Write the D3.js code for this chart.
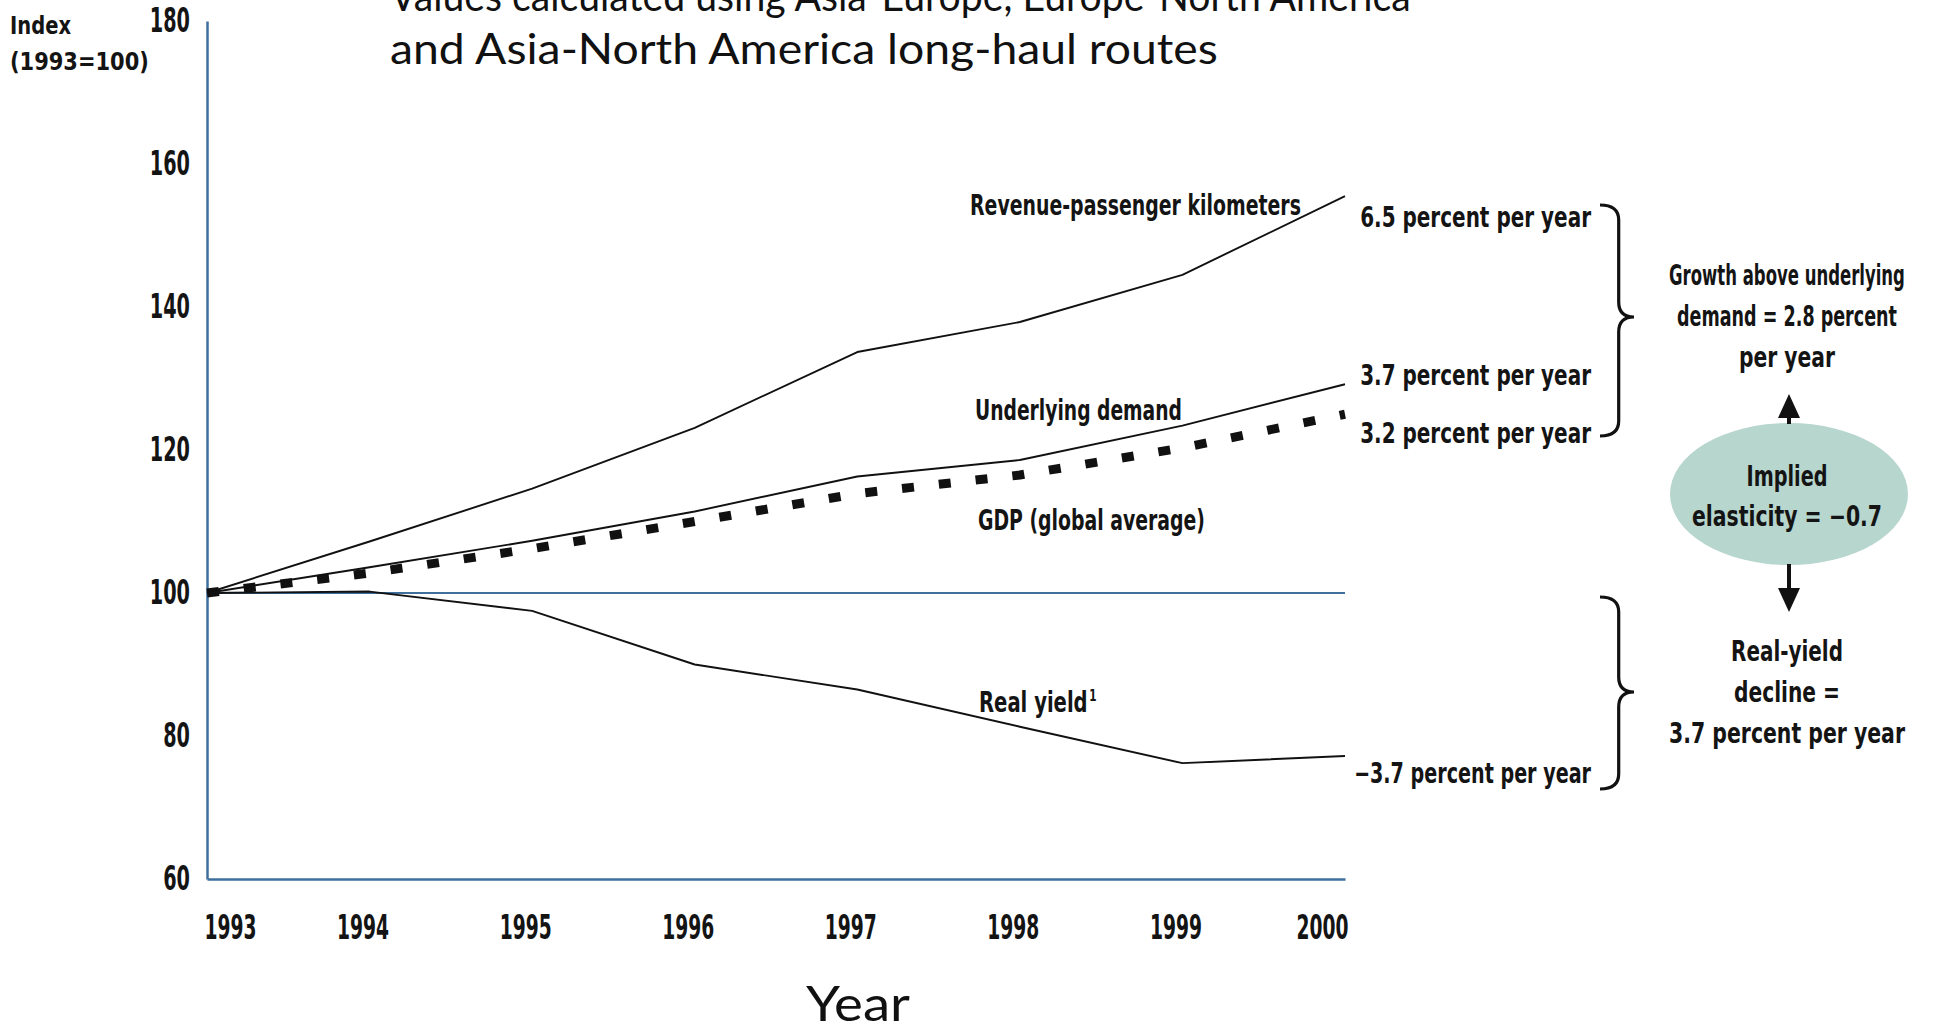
<!DOCTYPE html>
<html>
<head>
<meta charset="utf-8">
<script src="https://cdn.jsdelivr.net/npm/d3@7"></script>
<style>
  html, body { margin: 0; padding: 0; background: #fff; }
  svg { display: block; }
  .cond { font-family: "Liberation Sans Narrow", "DejaVu Sans Condensed", "DejaVu Sans", sans-serif; font-stretch: condensed; font-weight: bold; fill: #141414; }
  .gill { font-family: Lato, "Open Sans", sans-serif; fill: #111; }
</style>
</head>
<body>
<script>
// Index values, 1993 = 100
const years = [1993, 1994, 1995, 1996, 1997, 1998, 1999, 2000];
const rpk = [100, 107.2, 114.6, 123.1, 133.7, 137.9, 144.5, 155.5];
const underlying = [100, 103.6, 107.3, 111.4, 116.3, 118.6, 123.4, 129.2];
const gdp = [100, 102.8, 106.2, 110.0, 113.9, 116.5, 120.3, 125.0];
const realYield = [100, 100.2, 97.5, 90.0, 86.5, 81.3, 76.2, 77.2];
const yTicks = [60, 80, 100, 120, 140, 160, 180];
const rateLabels = ["6.5 percent per year", "3.7 percent per year", "3.2 percent per year", "\u22123.7 percent per year"];

const W = 1948, H = 1034;
const svg = d3.select("body").append("svg").attr("width", W).attr("height", H);

const x = d3.scaleLinear().domain([1993, 2000]).range([207, 1345]);
const y = d3.scaleLinear().domain([60, 180]).range([879, 21]);
const axisBlue = "#3f6f9d";

// Squeeze a text horizontally to a set width; the scale goes into the
// transform so the text's box on screen matches what is drawn.
function squeeze(node, target) {
  const t = d3.select(node);
  const w = node.getComputedTextLength();
  const x0 = +t.attr("x") || 0, y0 = +t.attr("y") || 0, dx = +t.attr("dx") || 0;
  t.attr("x", null).attr("y", null).attr("dx", null)
    .attr("transform", `translate(${x0 + dx},${y0}) scale(${(target / w).toFixed(4)},1)`);
}
function addText(cls, txt, tx, ty, size, width, anchor, dy) {
  const t = svg.append("text").attr("class", cls).attr("x", tx).attr("y", ty)
    .attr("font-size", size).attr("text-anchor", anchor || "start").text(txt);
  if (dy) t.attr("dy", dy);
  squeeze(t.node(), width);
  return t;
}

// Title (two lines, the first running off the top edge)
addText("gill", "Values calculated using Asia-Europe, Europe-North America", 390, 11, 42, 1021);
addText("gill", "and Asia-North America long-haul routes", 390, 64, 42, 828);

// Y axis
const yAxis = svg.append("g").attr("transform", `translate(${x(1993)},0)`)
  .call(d3.axisLeft(y).tickValues(yTicks).tickSize(0).tickPadding(17).tickFormat(d3.format("d")));
yAxis.select(".domain").attr("stroke", axisBlue).attr("stroke-width", 2.5);
yAxis.selectAll("text").attr("class", "cond").attr("font-size", 33)
  .each(function (d) { squeeze(this, String(d).length * 13.4); });

// X axis
const xAxis = svg.append("g").attr("transform", `translate(0,${y(60)})`)
  .call(d3.axisBottom(x).tickValues(years).tickSize(0).tickPadding(36).tickFormat(d3.format("d")));
xAxis.select(".domain").attr("stroke", axisBlue).attr("stroke-width", 2.5);
xAxis.selectAll("text").attr("class", "cond").attr("font-size", 34)
  .attr("dx", (d, i) => i === 0 ? 23 : (i === years.length - 1 ? -23 : -7))
  .each(function () { squeeze(this, 52); });

// Index label
addText("cond", "Index", 10, 25, 25, 61, "start", "0.35em");
addText("cond", "(1993=100)", 10, 61, 25, 139, "start", "0.35em");

// Reference line at 100
svg.append("line").attr("x1", x(1993)).attr("x2", x(2000)).attr("y1", y(100)).attr("y2", y(100))
  .attr("stroke", axisBlue).attr("stroke-width", 2);

// Series lines
const line = d3.line().x((d, i) => x(years[i])).y(d => y(d));
svg.append("path").datum(gdp).attr("d", line).attr("fill", "none")
  .attr("stroke", "#111").attr("stroke-width", 9).attr("stroke-dasharray", "12,25");
[rpk, underlying, realYield].forEach(s => {
  svg.append("path").datum(s).attr("d", line).attr("fill", "none")
    .attr("stroke", "#111").attr("stroke-width", 1.9).attr("stroke-linejoin", "round");
});

// Series labels
addText("cond", "Revenue-passenger kilometers", 970, 205, 28, 331, "start", "0.35em");
addText("cond", "Underlying demand", 975, 410, 28, 207, "start", "0.35em");
addText("cond", "GDP (global average)", 978, 520, 28, 227, "start", "0.35em");
const ry = svg.append("text").attr("class", "cond").attr("x", 979).attr("y", 702).attr("dy", "0.35em")
  .attr("font-size", 28);
ry.append("tspan").text("Real yield");
ry.append("tspan").attr("font-size", 15).attr("dy", "-0.75em").attr("dx", 2).text("1");
squeeze(ry.node(), 116);

// Growth-rate annotations at the right end of the lines
const rateY = [217, 375, 433, 773];
rateLabels.forEach((t, i) => {
  addText("cond", t, 1591, rateY[i], 28, i === 3 ? 237 : 231, "end", "0.35em");
});

// Curly braces
function brace(bx, yTop, yBot, yTip, w) {
  const xm = bx + w * 0.55, xt = bx + w, r = 15;
  const p = d3.path();
  p.moveTo(bx, yTop);
  p.quadraticCurveTo(xm, yTop, xm, yTop + r);
  p.lineTo(xm, yTip - r);
  p.quadraticCurveTo(xm, yTip, xt, yTip);
  p.quadraticCurveTo(xm, yTip, xm, yTip + r);
  p.lineTo(xm, yBot - r);
  p.quadraticCurveTo(xm, yBot, bx, yBot);
  return p.toString();
}
svg.append("path").attr("d", brace(1600, 205, 436, 317, 34)).attr("fill", "none")
  .attr("stroke", "#111").attr("stroke-width", 3.2);
svg.append("path").attr("d", brace(1600, 597, 789, 692, 34)).attr("fill", "none")
  .attr("stroke", "#111").attr("stroke-width", 3.2);

// Right-hand explanation
const cx = 1787;
function centred(txt, cy, len) {
  addText("cond", txt, cx, cy, 28, len, "middle", "0.35em");
}
centred("Growth above underlying", 275, 236);
centred("demand = 2.8 percent", 316, 220);
centred("per year", 357, 96);

svg.append("ellipse").attr("cx", 1789).attr("cy", 494).attr("rx", 119).attr("ry", 71)
  .attr("fill", "#b7d6ce");
centred("Implied", 476, 81);
centred("elasticity = \u22120.7", 516, 190);

// Arrows
svg.append("line").attr("x1", 1789).attr("x2", 1789).attr("y1", 424).attr("y2", 410)
  .attr("stroke", "#111").attr("stroke-width", 4);
svg.append("path").attr("d", "M1789,394 L1800,418 L1778,418 Z").attr("fill", "#111");
svg.append("line").attr("x1", 1789).attr("x2", 1789).attr("y1", 564).attr("y2", 590)
  .attr("stroke", "#111").attr("stroke-width", 4);
svg.append("path").attr("d", "M1789,612 L1800,588 L1778,588 Z").attr("fill", "#111");

centred("Real-yield", 651, 112);
centred("decline =", 692, 106);
centred("3.7 percent per year", 733, 236);

// X axis title
addText("gill", "Year", 858, 1021, 48, 104, "middle");
</script>
</body>
</html>
